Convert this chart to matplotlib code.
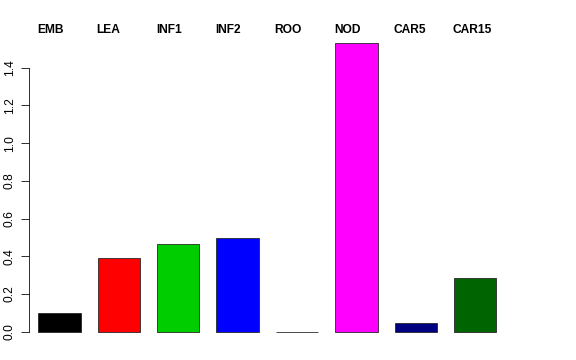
import numpy as np
import matplotlib

matplotlib.use('Agg')
import matplotlib.pyplot as plt
import matplotlib.transforms as mtransforms

tissues = ["EMB", "LEA", "INF1", "INF2", "ROO", "NOD", "CAR5", "CAR15"]
values = [0.097, 0.392, 0.465, 0.495, 0.0, 1.529, 0.048, 0.283]
colors = ["black", "#FF0000", "#00CD00", "#0000FF", "cyan", "#FF00FF", "#000080", "#006400"]
yticks = [0.0, 0.2, 0.4, 0.6, 0.8, 1.0, 1.2, 1.4]

W, H = 576, 360
fig = plt.figure(figsize=(W / 72, H / 72), dpi=72)

# plot region in pixels (R style barplot)
left, bottom, right, top = 29, 16.8, 523, 31.8
ax = fig.add_axes([left / W, bottom / H, (right - left) / W, (H - top - bottom) / H])

# bar width 1, gap 0.4
x = 0.9 + 1.4 * np.arange(len(values))
ax.bar(x, values, width=1.0, color=colors, edgecolor="#222222", linewidth=0.8)

ax.set_xlim(0.18, 11.83)
ax.set_ylim(-0.0612, 1.590)

for s in ["top", "right", "bottom"]:
    ax.spines[s].set_visible(False)
ax.spines["left"].set_bounds(0, 1.4)
ax.spines["left"].set_linewidth(0.8)
ax.set_xticks([])
ax.set_yticks(yticks)
ax.set_yticklabels([f"{v:.1f}" for v in yticks], rotation=90, va="center",
                   family="Liberation Sans", fontsize=12)
ax.tick_params(axis="y", length=8, width=0.8, pad=5)

trans = mtransforms.blended_transform_factory(ax.transData, fig.transFigure)
for xi, name in zip(x, tissues):
    ax.text(xi - 0.53, 1 - 33.3 / H, name, transform=trans, ha="left", va="baseline",
            family="Liberation Sans", fontweight="bold", fontsize=12)

fig.savefig("out.png", dpi=72)
